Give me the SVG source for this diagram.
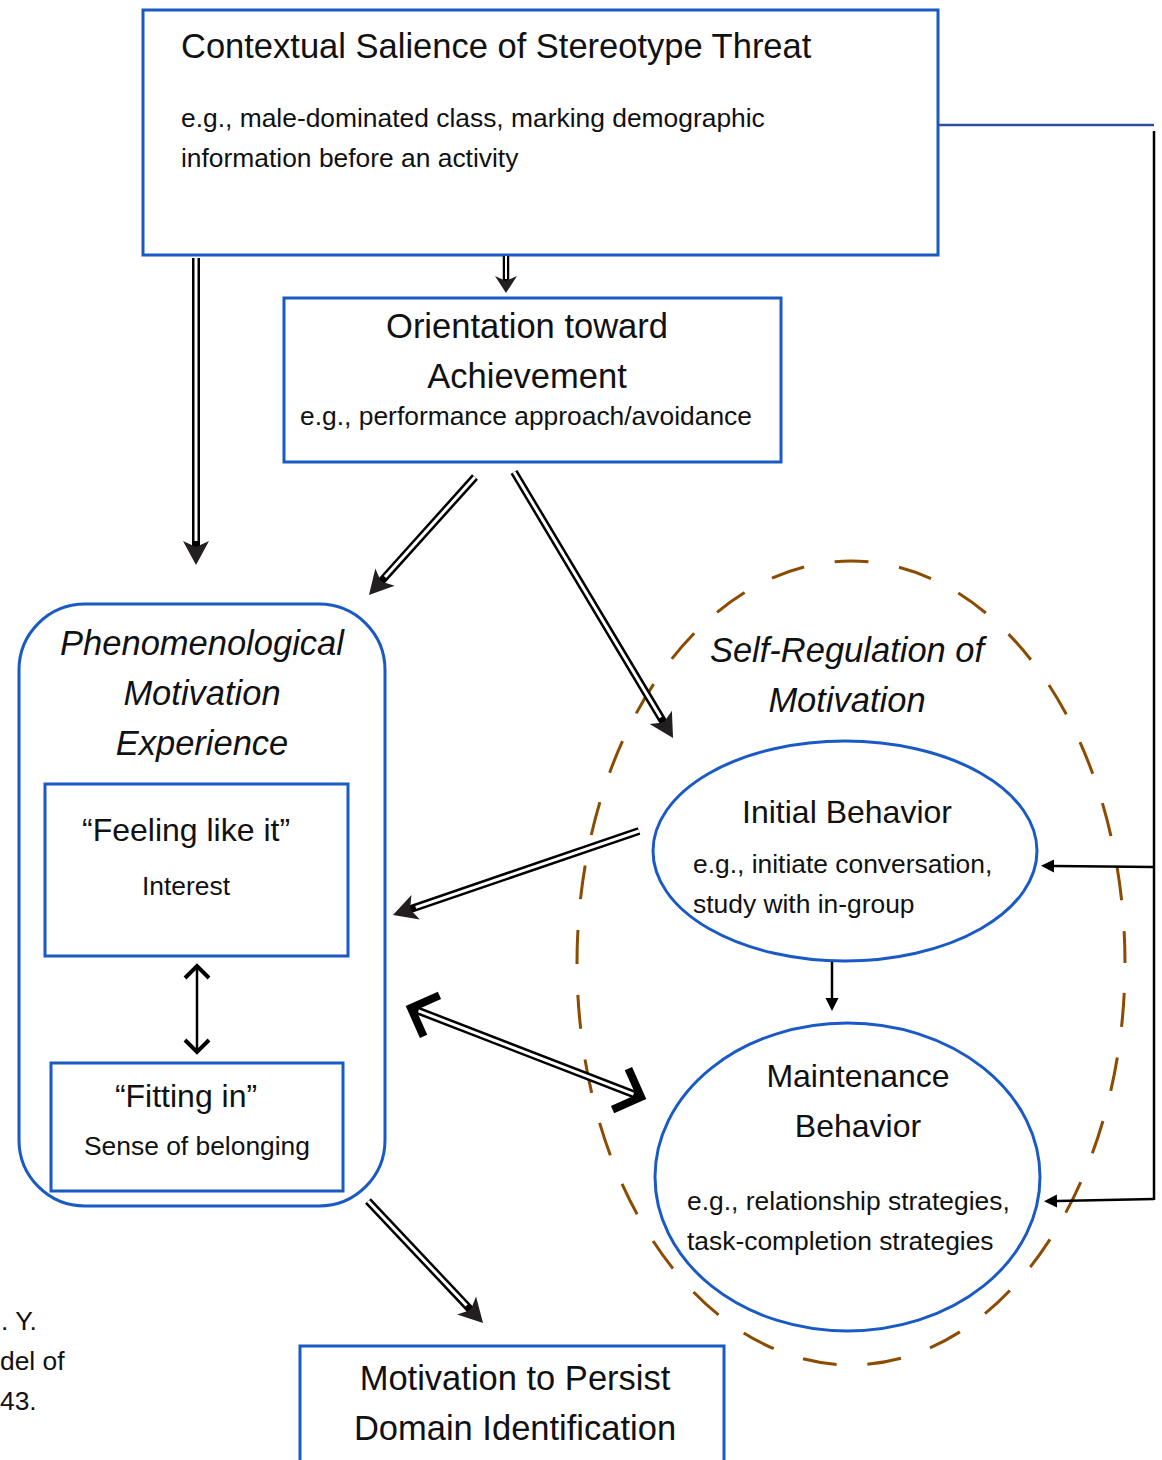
<svg xmlns="http://www.w3.org/2000/svg" width="1162" height="1460" viewBox="0 0 1162 1460">
<style>
text{font-family:"Liberation Sans",Arial,sans-serif;fill:#111}
.h{font-size:34.5px}
.n{font-size:32px}
.s{font-size:26.4px}
.i{font-style:italic}
.m{text-anchor:middle}
.box{fill:none;stroke:#1a5ac4;stroke-width:3}
.dash{fill:none;stroke:#8b4b00;stroke-width:3;stroke-dasharray:34 31;stroke-dashoffset:35}
.dbo{stroke:#000;stroke-width:8;fill:none}
.dbi{stroke:#fff;stroke-width:3;fill:none}
.thin{stroke:#000;stroke-width:2.5;fill:none}
</style>
<defs>
<marker id="dh" viewBox="-1 -14 27 28" markerWidth="27" markerHeight="28" refX="6" refY="0" orient="auto" markerUnits="userSpaceOnUse">
<path d="M0,-13 L24,0 L0,13 L6,0 Z" fill="#231f20"/>
</marker>
<marker id="chev" viewBox="-30 -30 40 60" markerWidth="40" markerHeight="60" refX="0" refY="0" orient="auto-start-reverse" markerUnits="userSpaceOnUse">
<path d="M-22,-22 L0,0 L-22,22" fill="none" stroke="#000" stroke-width="8"/>
</marker>
<marker id="sh" viewBox="0 -7 14 14" markerWidth="14" markerHeight="14" refX="0" refY="0" orient="auto" markerUnits="userSpaceOnUse">
<path d="M0,-6.5 L13,0 L0,6.5 Z" fill="#000"/>
</marker>
</defs>

<g id="contextual">
<rect class="box" x="143" y="10" width="795" height="245"/>
<text class="h" x="181" y="58">Contextual Salience of Stereotype Threat</text>
<text class="s" x="181" y="127">e.g., male-dominated class, marking demographic</text>
<text class="s" x="181" y="167">information before an activity</text>
</g>

<g id="orientation">
<rect class="box" x="284" y="298" width="497" height="164"/>
<text class="h m" x="527" y="338">Orientation toward</text>
<text class="h m" x="527" y="388">Achievement</text>
<text class="s m" x="526" y="425">e.g., performance approach/avoidance</text>
</g>

<g id="phenomenological">
<rect class="box" x="19" y="604" width="366" height="602" rx="66" ry="66"/>
<text class="h i m" x="202" y="655">Phenomenological</text>
<text class="h i m" x="202" y="705">Motivation</text>
<text class="h i m" x="202" y="755">Experience</text>
</g>

<g id="feeling">
<rect class="box" x="45" y="784" width="303" height="172"/>
<text class="n m" x="186" y="841">“Feeling like it”</text>
<text class="s m" x="186" y="895">Interest</text>
</g>

<g id="fitting">
<rect class="box" x="51" y="1063" width="292" height="128"/>
<text class="n m" x="186" y="1107">“Fitting in”</text>
<text class="s m" x="197" y="1155">Sense of belonging</text>
</g>

<g id="selfregulation">
<ellipse class="dash" cx="851" cy="963" rx="274" ry="402"/>
<text class="h i m" x="847" y="662">Self-Regulation of</text>
<text class="h i m" x="847" y="712">Motivation</text>
</g>

<g id="initial">
<ellipse class="box" cx="845" cy="851" rx="192" ry="110"/>
<text class="n m" x="847" y="823">Initial Behavior</text>
<text class="s" x="693" y="873">e.g., initiate conversation,</text>
<text class="s" x="693" y="913">study with in-group</text>
</g>

<g id="maintenance">
<ellipse class="box" cx="847.5" cy="1177" rx="192.5" ry="154"/>
<text class="n m" x="858" y="1087">Maintenance</text>
<text class="n m" x="858" y="1137">Behavior</text>
<text class="s" x="687" y="1210">e.g., relationship strategies,</text>
<text class="s" x="687" y="1250">task-completion strategies</text>
</g>

<g id="persist">
<rect class="box" x="300" y="1346" width="424" height="140"/>
<text class="h m" x="515" y="1390">Motivation to Persist</text>
<text class="h m" x="515" y="1440">Domain Identification</text>
</g>

<g id="citation">
<text class="s" x="1" y="1330">. Y.</text>
<text class="s" x="0" y="1370">del of</text>
<text class="s" x="0" y="1410">43.</text>
</g>

<g id="connectors">
<line class="dbo" x1="196" y1="258" x2="196" y2="547" marker-end="url(#dh)"/>
<line class="dbi" x1="196" y1="258" x2="196" y2="541"/>
<line x1="506" y1="256" x2="506" y2="282" stroke="#000" stroke-width="6.5"/>
<line x1="506" y1="256" x2="506" y2="279" stroke="#fff" stroke-width="2"/>
<polygon points="506,293 495,276 506,281 517,276" fill="#231f20"/>
<line class="dbo" x1="475" y1="477" x2="381" y2="581.6" marker-end="url(#dh)"/>
<line class="dbi" x1="475" y1="477" x2="385" y2="577.1"/>
<line class="dbo" x1="514" y1="472" x2="663.8" y2="722.6" marker-end="url(#dh)"/>
<line class="dbi" x1="514" y1="472" x2="660.7" y2="717.5"/>
<line class="dbo" x1="639" y1="831" x2="410" y2="909.2" marker-end="url(#dh)"/>
<line class="dbi" x1="639" y1="831" x2="415.7" y2="907.3"/>
<line class="dbo" x1="411" y1="1008" x2="641" y2="1097"/>
<line class="dbi" x1="418.5" y1="1010.9" x2="633.5" y2="1094.1"/>
<line x1="411" y1="1008" x2="641" y2="1097" stroke="none" marker-start="url(#chev)" marker-end="url(#chev)"/>
<line class="dbo" x1="368" y1="1201" x2="470.7" y2="1309.9" marker-end="url(#dh)"/>
<line class="dbi" x1="368" y1="1201" x2="466.6" y2="1305.5"/>
<line class="thin" x1="197" y1="967" x2="197" y2="1051"/>
<polyline points="185,978 197,966 209,978" fill="none" stroke="#000" stroke-width="4"/>
<polyline points="185,1040 197,1052 209,1040" fill="none" stroke="#000" stroke-width="4"/>
<line class="thin" x1="832" y1="962" x2="832" y2="998" marker-end="url(#sh)"/>
<line x1="939" y1="125" x2="1154" y2="125" stroke="#2d4f9e" stroke-width="2.5"/>
<line class="thin" x1="1154" y1="131" x2="1154" y2="1200"/>
<line class="thin" x1="1154" y1="867" x2="1054" y2="866" marker-end="url(#sh)"/>
<line class="thin" x1="1154" y1="1199" x2="1057" y2="1201" marker-end="url(#sh)"/>
</g>
</svg>
